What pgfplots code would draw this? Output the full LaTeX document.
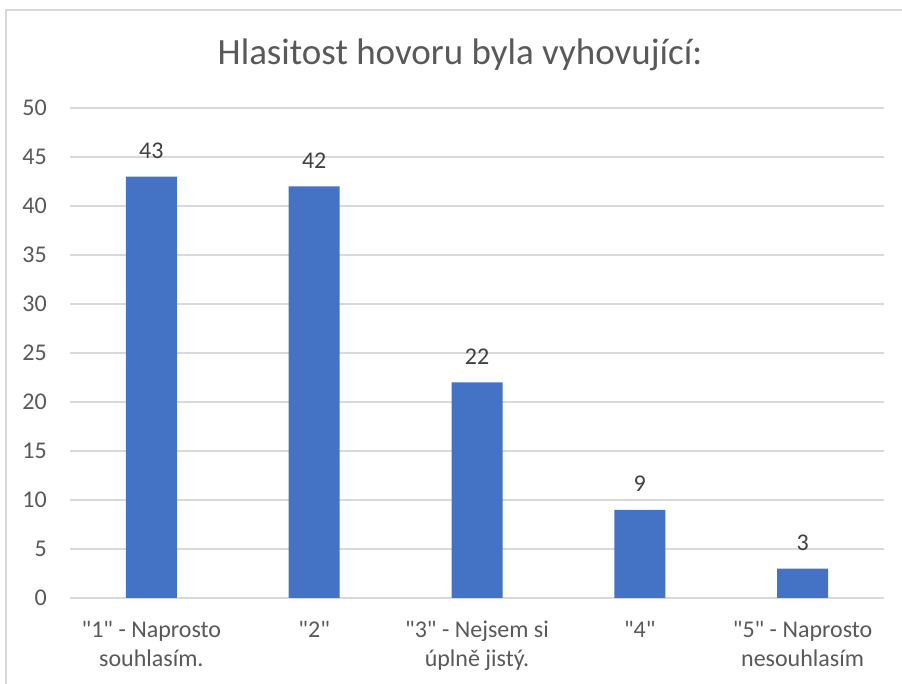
\documentclass[border=0pt]{standalone}
\usepackage{fontspec}
\setmainfont{Carlito}[Ligatures=TeXOff]
\usepackage{pgfplots}
\pgfplotsset{compat=1.18}
\definecolor{barc}{HTML}{4472C4}
\definecolor{txt}{HTML}{595959}
\definecolor{lbl}{HTML}{404040}
\definecolor{grd}{HTML}{D9D9D9}
\begin{document}
\begin{tikzpicture}[x=1pt,y=1pt]
\useasboundingbox (0,0) rectangle (902,684);
\fill[white] (0,0) rectangle (902,684);
\draw[grd, line width=1.3pt] (6,0) -- (6,674) -- (902,674);
\node[anchor=base, text=txt, font=\fontsize{37}{44}\selectfont, inner sep=0pt] at (460,619) {Hlasitost hovoru byla vyhovující:};
\begin{axis}[
  at={(70pt,86pt)}, anchor=south west,
  scale only axis, width=814pt, height=490pt,
  xmin=-0.5, xmax=4.5, ymin=0, ymax=50,
  ytick={0,5,...,50},
  xtick={0,1,2,3,4},
  xticklabels={{"1" - Naprosto\\souhlasím.},{"2"},{"3" - Nejsem si\\úplně jistý.},{"4"},{"5" - Naprosto\\nesouhlasím}},
  axis line style={draw=none},
  major tick length=0pt,
  ymajorgrids, grid style={grd, line width=1.1pt},
  /pgf/number format/assume math mode=true,
  tick label style={text=txt, font=\fontsize{24}{29}\selectfont, inner sep=0pt},
  yticklabel style={anchor=east, xshift=-23pt},
  xticklabel style={anchor=north, yshift=-23pt, align=center},
  ybar, bar width=51pt,
  nodes near coords,
  every node near coord/.append style={anchor=base, yshift=18pt, inner sep=0pt, text=lbl, font=\fontsize{24}{29}\selectfont},
  clip=false,
]
\addplot[fill=barc, draw=none] coordinates {(0,43) (1,42) (2,22) (3,9) (4,3)};
\end{axis}
\end{tikzpicture}
\end{document}
